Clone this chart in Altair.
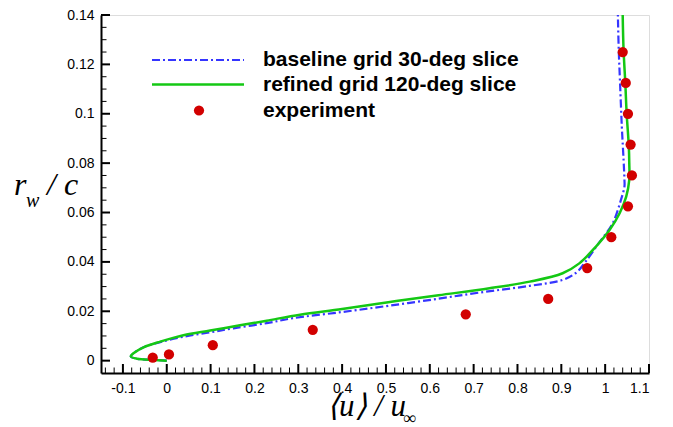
import altair as alt
import pandas as pd

# ---------------- data ----------------
exp_u = [-0.032, 0.005, 0.105, 0.333, 0.682, 0.870, 0.959, 1.014, 1.052, 1.061, 1.058, 1.052, 1.047, 1.040]
exp_r = [0.00125, 0.0025, 0.00625, 0.0125, 0.01875, 0.025, 0.0375, 0.05, 0.0625, 0.075, 0.0875, 0.1, 0.1125, 0.125]

ref_u = [0.0, -0.03, -0.068, -0.082, -0.076, -0.053, -0.015, 0.038, 0.099, 0.167, 0.228, 0.304, 0.40,
         0.509, 0.62, 0.736, 0.828, 0.903, 0.941, 0.979, 1.010, 1.033, 1.048, 1.055, 1.055, 1.054,
         1.049, 1.046, 1.042, 1.040]
ref_r = [0.0, 0.0003, 0.0008, 0.0017, 0.0030, 0.0054, 0.0077, 0.0103, 0.0122, 0.0143, 0.0162, 0.0186, 0.0209,
         0.0238, 0.0265, 0.0293, 0.0320, 0.0354, 0.0394, 0.0462, 0.0529, 0.0597, 0.0664, 0.0732, 0.0800, 0.0867,
         0.1002, 0.1123, 0.1258, 0.1400]

base_u = [0.0, -0.03, -0.068, -0.082, -0.076, -0.053, -0.015, 0.038, 0.099, 0.152, 0.228, 0.288, 0.40,
          0.509, 0.62, 0.714, 0.828, 0.903, 0.935, 0.955, 0.985, 1.017, 1.036, 1.044, 1.044, 1.042,
          1.038, 1.034, 1.031, 1.029]
base_r = [0.0, 0.0003, 0.0008, 0.0017, 0.0030, 0.0054, 0.0075, 0.0097, 0.0115, 0.0131, 0.0152, 0.0172, 0.0197,
          0.0223, 0.0251, 0.0276, 0.0303, 0.0327, 0.0358, 0.0400, 0.0475, 0.0556, 0.0651, 0.0705, 0.0732, 0.0813,
          0.0948, 0.1123, 0.1258, 0.1400]

legend_labels = ["baseline grid 30-deg slice", "refined grid 120-deg slice", "experiment"]

x_major = [-0.1, 0, 0.1, 0.2, 0.3, 0.4, 0.5, 0.6, 0.7, 0.8, 0.9, 1.0, 1.1]
x_minor = [-0.14, -0.12, -0.08, -0.06, -0.04, -0.02, 0.02, 0.04, 0.06, 0.08, 0.12, 0.14, 0.16, 0.18,
           0.22, 0.24, 0.26, 0.28, 0.32, 0.34, 0.36, 0.38, 0.42, 0.44, 0.46, 0.48, 0.52, 0.54, 0.56, 0.58,
           0.62, 0.64, 0.66, 0.68, 0.72, 0.74, 0.76, 0.78, 0.82, 0.84, 0.86, 0.88, 0.92, 0.94, 0.96, 0.98,
           1.02, 1.04, 1.06, 1.08]
y_major = [0, 0.02, 0.04, 0.06, 0.08, 0.1, 0.12, 0.14]
y_minor = [0.005, 0.01, 0.015, 0.025, 0.03, 0.035, 0.045, 0.05, 0.055, 0.065, 0.07, 0.075,
           0.085, 0.09, 0.095, 0.105, 0.11, 0.115, 0.125, 0.13, 0.135]

# ---------------- layout / style ----------------
W, H = 548, 358
BLUE = "#3535ff"
GREEN = "#14c814"
RED = "#d20000"
SANS = "Liberation Sans"
SERIF = "Liberation Serif"

xs = alt.Scale(domain=[-0.15, 1.1], nice=False, zero=False)
ys = alt.Scale(domain=[-0.005, 0.14], nice=False, zero=False)

lab = "replace(format(datum.value, '~g'), '\u2212', '-')"
axis_base = dict(domainColor="black", domainWidth=2, ticks=False, tickSize=0, grid=False,
                 labelFont=SANS, labelFontSize=14, labelColor="black", title=None, labelExpr=lab)
XAX = alt.Axis(values=x_major, labelPadding=8, **axis_base)
YAX = alt.Axis(values=y_major, labelPadding=7, **axis_base)


def X(f):
    return alt.X(f, scale=xs, axis=XAX)


def Y(f):
    return alt.Y(f, scale=ys, axis=YAX)


ref_df = pd.DataFrame({"u": ref_u, "r": ref_r, "i": range(len(ref_u))})
base_df = pd.DataFrame({"u": base_u, "r": base_r, "i": range(len(base_u))})
exp_df = pd.DataFrame({"u": exp_u, "r": exp_r})

base_line = alt.Chart(base_df).mark_line(color=BLUE, strokeWidth=2.2, strokeDash=[8, 3, 2, 3],
                                         interpolate="catmull-rom").encode(
    x=X("u:Q"), y=Y("r:Q"), order="i:Q")
ref_line = alt.Chart(ref_df).mark_line(color=GREEN, strokeWidth=2.5, interpolate="catmull-rom").encode(
    x=X("u:Q"), y=Y("r:Q"), order="i:Q")
exp_pts = alt.Chart(exp_df).mark_circle(color=RED, size=105, opacity=1).encode(x=X("u:Q"), y=Y("r:Q"))


# inward ticks
def yticks(vals, length, width):
    return alt.Chart(pd.DataFrame({"r": vals})).mark_rule(
        color="black", strokeWidth=width).encode(y=Y("r:Q"), x=alt.value(0), x2=alt.value(length))


def xticks(vals, length, width):
    return alt.Chart(pd.DataFrame({"u": vals})).mark_rule(color="black", strokeWidth=width).encode(
        x=X("u:Q"), y=alt.value(H), y2=alt.value(H - length))


ticks = [yticks(y_major, 9, 2), yticks(y_minor, 5.5, 1), xticks(x_major, 9, 2), xticks(x_minor, 5.5, 1)]

one = pd.DataFrame({"k": [0]})
leg_y = [45, 69.5, 95.5]
leg_blue = alt.Chart(one).mark_rule(color=BLUE, strokeWidth=2.2, strokeDash=[8, 3, 2, 3]).encode(
    x=alt.value(51), x2=alt.value(143), y=alt.value(leg_y[0]))
leg_green = alt.Chart(one).mark_rule(color=GREEN, strokeWidth=2.5).encode(
    x=alt.value(51), x2=alt.value(143), y=alt.value(leg_y[1]))
leg_dot = alt.Chart(one).mark_circle(color=RED, size=105, opacity=1).encode(
    x=alt.value(98), y=alt.value(leg_y[2]))
leg_texts = [
    alt.Chart(pd.DataFrame({"t": [s]})).mark_text(
        align="left", baseline="middle", font=SANS, fontSize=21, fontWeight="bold", color="black"
    ).encode(x=alt.value(162), y=alt.value(yy), text="t:N")
    for s, yy in zip(legend_labels, leg_y)
]


def txt(s, x, y, size, style="italic", font=SERIF):
    return alt.Chart(pd.DataFrame({"t": [s]})).mark_text(
        align="left", baseline="alphabetic", font=font, fontSize=size, fontStyle=style, color="black"
    ).encode(x=alt.value(x), y=alt.value(y), text="t:N")


titles = [
    txt("r", -87, 180, 32),
    txt("w", -75, 192, 20),
    txt("/ c", -54, 180, 32),
    txt("\u27e8u\u27e9 / u", 226, 401, 31),
    txt("\u221e", 302, 409, 18, style="normal"),
]

chart = alt.layer(base_line, ref_line, exp_pts, *ticks, leg_blue, leg_green, leg_dot, *leg_texts, *titles).properties(
    width=W, height=H,
    autosize=alt.AutoSizeParams(type="none"),
    padding={"left": 101, "top": 15, "right": 673 - 101 - W, "bottom": 427 - 15 - H},
).configure_view(stroke=None).configure(background="white")

chart.save("out.html", embed_options={"renderer": "svg", "actions": False})
